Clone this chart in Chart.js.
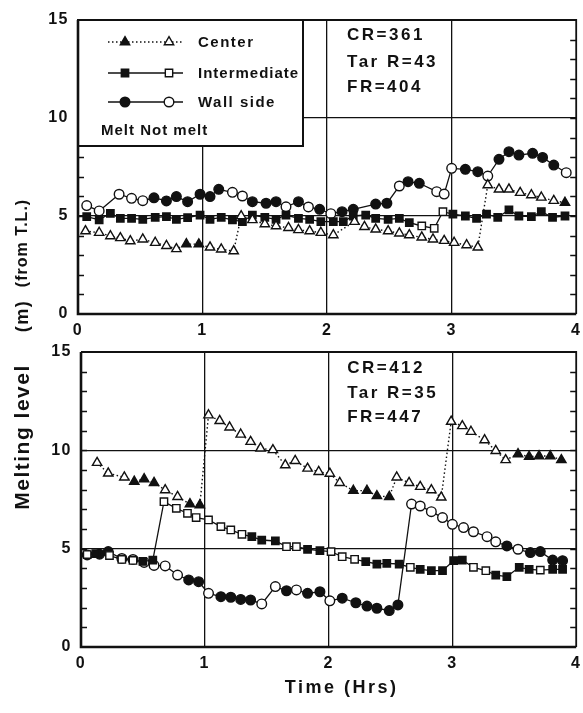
<!DOCTYPE html>
<html><head><meta charset="utf-8">
<script src="https://cdn.jsdelivr.net/npm/chart.js@4"></script>
<style>
html,body{margin:0;padding:0;background:#fff;}
#wrap{position:relative;width:583px;height:713px;overflow:hidden;background:#fff;}
canvas{position:absolute;left:0;}
#c1{top:0;} #c2{top:340px;}
.yt{position:absolute;font-family:'Liberation Sans',sans-serif;font-weight:bold;color:#111;white-space:nowrap;transform:translate(-50%,-50%) rotate(-90deg);}
</style></head>
<body><div id="wrap">
<canvas id="c1" width="583" height="345"></canvas>
<canvas id="c2" width="583" height="373"></canvas>
<div class="yt" style="left:22px;top:437px;font-size:21px;letter-spacing:1.5px">Melting level</div>
<div class="yt" style="left:22px;top:316px;font-size:18px;letter-spacing:1.5px">(m)</div>
<div class="yt" style="left:22px;top:243px;font-size:16px;letter-spacing:1px">(from T.L.)</div>
</div>
<script>
// ---------- data ----------
const xTicks = [0, 1, 2, 3, 4];
const yTicks = [0, 5, 10, 15];
const legendLabels = ['Center', 'Intermediate', 'Wall side'];
const meltLabel = 'Melt Not melt';
const xTitle = 'Time (Hrs)';
const topNotes = ['CR=361', 'Tar R=43', 'FR=404'];
const bottomNotes = ['CR=412', 'Tar R=35', 'FR=447'];

// Top panel
const topCenterT = [0.06,0.17,0.26,0.34,0.42,0.52,0.62,0.71,0.79,0.87,0.97,1.06,1.15,1.25,1.31,1.40,1.50,1.59,1.69,1.77,1.86,1.95,2.05,2.22,2.30,2.39,2.49,2.58,2.66,2.76,2.85,2.94,3.02,3.12,3.21,3.29,3.38,3.46,3.55,3.64,3.72,3.82,3.91];
const topCenterV = [4.23,4.15,3.98,3.88,3.72,3.81,3.64,3.48,3.32,3.57,3.56,3.40,3.30,3.21,5.00,4.80,4.59,4.49,4.40,4.29,4.23,4.15,4.03,4.71,4.45,4.32,4.23,4.12,4.03,3.91,3.81,3.74,3.64,3.52,3.40,6.58,6.36,6.36,6.19,6.07,5.95,5.78,5.68];
const topCenterMelt = [0,0,0,0,0,0,0,0,0,1,1,0,0,0,0,0,0,0,0,0,0,0,0,0,0,0,0,0,0,0,0,0,0,0,0,0,0,0,0,0,0,0,1];

const topInterT = [0.07,0.17,0.26,0.34,0.43,0.52,0.62,0.71,0.79,0.88,0.98,1.06,1.15,1.24,1.32,1.40,1.50,1.59,1.67,1.77,1.86,1.95,2.05,2.13,2.21,2.31,2.39,2.49,2.58,2.66,2.76,2.86,2.93,3.01,3.11,3.20,3.28,3.37,3.46,3.54,3.64,3.72,3.81,3.91];
const topInterV = [4.97,4.80,5.14,4.88,4.88,4.83,4.93,4.97,4.83,4.92,5.05,4.83,4.93,4.80,4.71,5.05,4.93,4.83,5.05,4.88,4.83,4.71,4.71,4.71,5.00,5.05,4.88,4.83,4.88,4.66,4.49,4.37,5.22,5.09,5.00,4.88,5.09,4.93,5.31,5.00,4.97,5.22,4.93,5.00];
const topInterMelt = [1,1,1,1,1,1,1,1,1,1,1,1,1,1,1,1,1,1,1,1,1,1,1,1,1,1,1,1,1,1,0,0,0,1,1,1,1,1,1,1,1,1,1,1];

const topWallT = [0.07,0.17,0.33,0.43,0.52,0.61,0.71,0.79,0.88,0.98,1.06,1.13,1.24,1.32,1.40,1.51,1.59,1.67,1.77,1.85,1.94,2.03,2.12,2.21,2.39,2.48,2.58,2.65,2.74,2.88,2.94,3.00,3.11,3.21,3.29,3.38,3.46,3.54,3.65,3.73,3.82,3.92];
const topWallV = [5.53,5.26,6.11,5.90,5.78,5.93,5.77,5.99,5.73,6.11,5.99,6.36,6.21,6.02,5.73,5.65,5.73,5.47,5.73,5.46,5.34,5.12,5.22,5.34,5.61,5.65,6.53,6.75,6.67,6.24,6.12,7.43,7.38,7.26,7.04,7.89,8.28,8.11,8.20,7.99,7.60,7.21];
const topWallMelt = [0,0,0,0,0,1,1,1,1,1,1,1,0,0,1,1,1,0,1,0,1,0,1,1,1,1,0,1,1,0,0,0,1,1,0,1,1,1,1,1,1,0];

// Bottom panel
const botCenterT = [0.13,0.22,0.35,0.43,0.51,0.59,0.68,0.78,0.88,0.96,1.03,1.12,1.20,1.29,1.37,1.45,1.55,1.65,1.73,1.83,1.92,2.01,2.09,2.20,2.31,2.39,2.49,2.55,2.65,2.74,2.83,2.91,2.99,3.08,3.15,3.26,3.35,3.43,3.53,3.62,3.70,3.79,3.88];
const botCenterV = [9.37,8.83,8.63,8.41,8.54,8.35,7.98,7.64,7.27,7.22,11.79,11.50,11.17,10.81,10.44,10.10,10.02,9.25,9.47,9.08,8.91,8.82,8.35,7.95,7.95,7.68,7.64,8.63,8.35,8.15,7.98,7.61,11.46,11.24,10.95,10.52,9.98,9.51,9.81,9.68,9.71,9.71,9.51];
const botCenterMelt = [0,0,0,1,1,1,0,0,1,1,0,0,0,0,0,0,0,0,0,0,0,0,0,1,1,1,1,0,0,0,0,0,0,0,0,0,0,0,1,1,1,1,1];

const botInterT = [0.05,0.12,0.23,0.33,0.42,0.50,0.58,0.67,0.77,0.86,0.93,1.03,1.13,1.21,1.30,1.38,1.46,1.57,1.66,1.74,1.83,1.93,2.02,2.11,2.21,2.30,2.39,2.47,2.57,2.66,2.74,2.83,2.92,3.01,3.08,3.17,3.27,3.35,3.44,3.54,3.62,3.71,3.81,3.89];
const botInterV = [4.70,4.75,4.65,4.45,4.40,4.35,4.42,7.39,7.05,6.80,6.58,6.46,6.12,5.95,5.73,5.61,5.44,5.39,5.10,5.10,4.97,4.90,4.85,4.59,4.46,4.34,4.22,4.25,4.22,4.05,3.95,3.88,3.88,4.39,4.42,4.05,3.88,3.66,3.58,4.05,3.95,3.91,3.95,3.95];
const botInterMelt = [0,1,0,0,0,1,1,0,0,0,0,0,0,0,0,1,1,1,0,0,1,1,0,0,0,1,1,1,1,0,1,1,1,1,1,0,0,1,1,1,1,0,1,1];

const botWallT = [0.05,0.15,0.22,0.33,0.42,0.51,0.59,0.68,0.78,0.87,0.95,1.03,1.13,1.21,1.29,1.37,1.46,1.57,1.66,1.74,1.83,1.93,2.01,2.11,2.22,2.31,2.39,2.49,2.56,2.67,2.74,2.83,2.92,3.00,3.09,3.17,3.28,3.35,3.44,3.53,3.63,3.71,3.81,3.89];
const botWallV = [4.68,4.72,4.85,4.50,4.45,4.30,4.15,4.12,3.66,3.41,3.32,2.73,2.56,2.53,2.42,2.39,2.19,3.07,2.86,2.90,2.73,2.81,2.35,2.48,2.25,2.08,1.97,1.85,2.14,7.27,7.17,6.88,6.58,6.24,6.07,5.86,5.61,5.35,5.14,4.97,4.80,4.85,4.42,4.39];
const botWallMelt = [0,1,1,0,0,0,0,0,0,1,1,0,1,1,1,1,0,0,1,0,1,1,0,1,1,1,1,1,1,0,0,0,0,0,0,0,0,0,1,0,1,1,1,1];

// ---------- drawing ----------
const INK = '#111';
const FONT = "'Liberation Sans', Arial, sans-serif";
const STYLES = [
  {style: 'triangle', radius: 5.4, dashed: true},
  {style: 'rect', radius: 5.2, dashed: false},
  {style: 'circle', radius: 4.8, dashed: false}
];

function makeDataset(label, ts, vs, melt, st) {
  return {
    label,
    data: ts.map((t, i) => ({x: t, y: vs[i]})),
    borderColor: INK,
    borderWidth: st.dashed ? 1.4 : 1.3,
    borderDash: st.dashed ? [1.5, 2.5] : [],
    pointStyle: st.style,
    pointRadius: st.radius,
    pointBorderWidth: 1.4,
    pointBorderColor: INK,
    pointBackgroundColor: melt.map(m => m ? INK : '#fff'),
    tension: 0,
    fill: false
  };
}

function drawMarker(ctx, st, x, y, filled) {
  const opts = {pointStyle: st.style, radius: st.radius, rotation: 0, borderWidth: 1.4};
  ctx.save();
  ctx.fillStyle = filled ? INK : '#fff';
  ctx.strokeStyle = INK;
  ctx.lineWidth = 1.4;
  ctx.setLineDash([]);
  Chart.helpers.drawPoint(ctx, opts, x, y);
  ctx.restore();
}

function makePlugin(notes, noteAnchor, withLegend, withTitle) {
  return {
    id: 'decor',
    beforeDraw(chart) { chart.ctx.letterSpacing = '1.5px'; },
    beforeDatasetsDraw(chart) {
      const {ctx, chartArea: a, scales: {y}} = chart;
      ctx.save();
      ctx.strokeStyle = INK; ctx.lineWidth = 1.3;
      for (let v = 1; v < 15; v++) {
        const py = Math.round(y.getPixelForValue(v)) + 0.5;
        ctx.beginPath();
        ctx.moveTo(a.left, py); ctx.lineTo(a.left + 6, py);
        ctx.moveTo(a.right - 6, py); ctx.lineTo(a.right, py);
        ctx.stroke();
      }
      ctx.restore();
    },
    afterDatasetsDraw(chart) {
      const {ctx, chartArea: a, scales: {x, y}} = chart;
      ctx.save();
      // legend box
      if (withLegend) {
        const bx1 = 303, by1 = 146;
        ctx.fillStyle = '#fff';
        ctx.fillRect(a.left, a.top, bx1 - a.left, by1 - a.top);
        ctx.strokeStyle = INK; ctx.lineWidth = 2;
        ctx.strokeRect(a.left, a.top, bx1 - a.left, by1 - a.top);
        const rowsY = [42, 73, 102];
        legendLabels.forEach((lab, i) => {
          const st = STYLES[i];
          const ry = rowsY[i];
          ctx.save();
          ctx.strokeStyle = INK; ctx.lineWidth = 1.4;
          ctx.setLineDash(st.dashed ? [1.5, 2.5] : []);
          ctx.beginPath(); ctx.moveTo(108, ry); ctx.lineTo(183, ry); ctx.stroke();
          ctx.restore();
          drawMarker(ctx, st, 125, ry, true);
          drawMarker(ctx, st, 169, ry, false);
          ctx.fillStyle = INK;
          ctx.font = 'bold 15px ' + FONT;
          ctx.letterSpacing = i === 1 ? '1px' : '1.5px';
          ctx.textBaseline = 'middle'; ctx.textAlign = 'left';
          ctx.fillText(lab, 198, ry + 1);
        });
        ctx.letterSpacing = '1px';
        ctx.fillText(meltLabel, 101, 131);
      }
      // notes
      ctx.fillStyle = INK;
      ctx.font = 'bold 17px ' + FONT;
      ctx.letterSpacing = '2.5px';
      ctx.textBaseline = 'middle'; ctx.textAlign = 'left';
      notes.forEach((s, i) => {
        ctx.fillText(s, x.getPixelForValue(noteAnchor.x), y.getPixelForValue(noteAnchor.y[i]));
      });
      // axis title
      if (withTitle) {
        ctx.font = 'bold 18px ' + FONT;
        ctx.letterSpacing = '2.5px';
        ctx.textAlign = 'center'; ctx.textBaseline = 'middle';
        ctx.fillText(xTitle, (a.left + a.right) / 2 + 13, a.bottom + 41);
      }
      // frame
      ctx.letterSpacing = '0px';
      ctx.strokeStyle = INK;
      ctx.lineWidth = 1.8;
      ctx.beginPath();
      ctx.moveTo(a.left, a.top); ctx.lineTo(a.right, a.top); ctx.lineTo(a.right, a.bottom);
      ctx.stroke();
      ctx.lineWidth = 2.6;
      ctx.beginPath();
      ctx.moveTo(a.left, a.top); ctx.lineTo(a.left, a.bottom); ctx.lineTo(a.right, a.bottom);
      ctx.stroke();
      ctx.restore();
    }
  };
}

function makeScales(yWidth, xHeight) {
  return {
    x: {
      type: 'linear', min: 0, max: 4,
      afterBuildTicks(s) { s.ticks = xTicks.map(v => ({value: v})); },
      ticks: {color: INK, font: {family: FONT, size: 16, weight: 'bold'}, padding: 7, maxRotation: 0, autoSkip: false},
      grid: {drawTicks: false, lineWidth: 1.3,
        color: c => (c.tick && c.tick.value > 0 && c.tick.value < 4) ? INK : 'rgba(0,0,0,0)'},
      border: {display: false},
      afterFit(s) { s.height = xHeight; s.paddingLeft = 0; s.paddingRight = 0; }
    },
    y: {
      type: 'linear', min: 0, max: 15,
      afterBuildTicks(s) { s.ticks = yTicks.map(v => ({value: v})); },
      ticks: {color: INK, font: {family: FONT, size: 16, weight: 'bold'}, padding: 9},
      grid: {drawTicks: false, lineWidth: 1.3,
        color: c => (c.tick && c.tick.value > 0 && c.tick.value < 15) ? INK : 'rgba(0,0,0,0)'},
      border: {display: false},
      afterFit(s) { s.width = yWidth; s.paddingTop = 0; s.paddingBottom = 0; }
    }
  };
}

function makeChart(id, sets, padding, yWidth, xHeight, withTitle, notes, noteAnchor, withLegend) {
  return new Chart(document.getElementById(id), {
    type: 'line',
    data: {datasets: sets},
    options: {
      responsive: false, animation: false, devicePixelRatio: 1,
      layout: {padding},
      plugins: {legend: {display: false}, tooltip: {enabled: false}},
      scales: makeScales(yWidth, xHeight)
    },
    plugins: [makePlugin(notes, noteAnchor, withLegend, withTitle)]
  });
}

makeChart('c1', [
  makeDataset(legendLabels[0], topCenterT, topCenterV, topCenterMelt, STYLES[0]),
  makeDataset(legendLabels[1], topInterT, topInterV, topInterMelt, STYLES[1]),
  makeDataset(legendLabels[2], topWallT, topWallV, topWallMelt, STYLES[2])
], {top: 20, right: 6, bottom: 0, left: 0}, 78, 31, false,
  topNotes, {x: 2.16, y: [14.23, 12.86, 11.58]}, true);

makeChart('c2', [
  makeDataset(legendLabels[0], botCenterT, botCenterV, botCenterMelt, STYLES[0]),
  makeDataset(legendLabels[1], botInterT, botInterV, botInterMelt, STYLES[1]),
  makeDataset(legendLabels[2], botWallT, botWallV, botWallMelt, STYLES[2])
], {top: 12, right: 2, bottom: 0, left: 0}, 81, 66, true,
  bottomNotes, {x: 2.15, y: [14.18, 12.91, 11.69]}, false);
</script>
</body></html>
